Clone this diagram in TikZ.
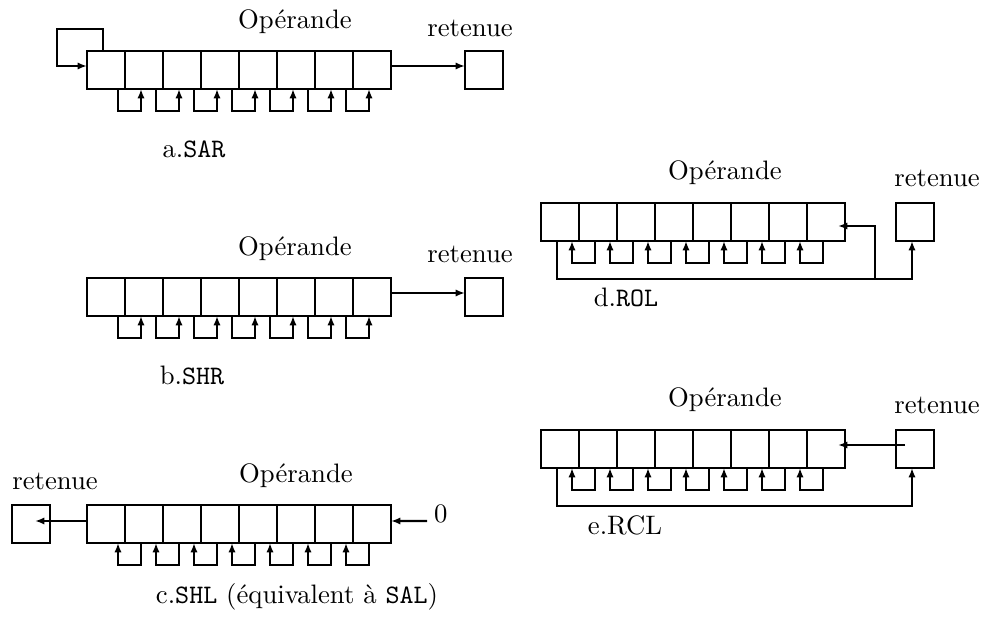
\documentclass[tikz,border=0pt]{standalone}
\usetikzlibrary{arrows.meta,calc}
\tikzset{
  cell/.style={draw, minimum width=14.23pt, minimum height=14.23pt, inner sep=0pt, outer sep=0pt},
  lbl/.style={inner sep=0pt, anchor=base},
  arr/.style={-{Latex[length=3.5pt,width=2.7pt]}},
}
\begin{document}
\begin{tikzpicture}[x=0.37459pt, y=-0.37459pt, line width=0.9pt]
\useasboundingbox (0,0) rectangle (984,619);

% ---------- a. SAR ----------
\foreach \i in {1,...,8} \node[cell] (a\i) at ({68+38*\i},70) {};
\node[cell] (ra) at (484,70) {};
\foreach \i in {1,...,7} {
  \pgfmathtruncatemacro\j{\i+1}
  \draw[arr] ($(a\i.south west)+(31,0)$) -- ++(0,22) -| ($(a\j.south west)+(16,0)$);
}
\draw[arr] ($(a1.north west)+(16,0)$) -- ++(0,-22) -- ++(-46,0) |- ($(a1.north west)+(0,15)$);
\draw[arr] ($(a8.north east)+(0,15)$) -- ($(ra.north west)+(0,15)$);
\node[lbl] (opa) at (295,29) {Opérande};
\node[lbl] (reta) at (470,37) {retenue};
\node[lbl] (capa) at (194,158) {a.\texttt{SAR}};

% ---------- b. SHR ----------
\foreach \i in {1,...,8} \node[cell] (b\i) at ({68+38*\i},297) {};
\node[cell] (rb) at (484,297) {};
\foreach \i in {1,...,7} {
  \pgfmathtruncatemacro\j{\i+1}
  \draw[arr] ($(b\i.south west)+(31,0)$) -- ++(0,22) -| ($(b\j.south west)+(16,0)$);
}
\draw[arr] ($(b8.north east)+(0,15)$) -- ($(rb.north west)+(0,15)$);
\node[lbl] (opb) at (295,256) {Opérande};
\node[lbl] (retb) at (470,263) {retenue};
\node[lbl] (capb) at (192,385) {b.\texttt{SHR}};

% ---------- c. SHL ----------
\foreach \i in {1,...,8} \node[cell] (c\i) at ({68+38*\i},524) {};
\node[cell] (rc) at (31,524) {};
\foreach \i in {1,...,7} {
  \pgfmathtruncatemacro\j{\i+1}
  \draw[arr] ($(c\j.south west)+(16,0)$) -- ++(0,22) -| ($(c\i.south west)+(31,0)$);
}
\draw[arr] ($(c1.north west)+(0,16)$) -- ($(rc.north west)+(23,16)$);
\node[lbl,anchor=base west] (zero) at (433,523) {0};
\coordinate (zin) at (427,521);
\draw[arr] (zin) -- ($(c8.north east)+(0,16)$);
\node[lbl] (opc) at (296,483) {Opérande};
\node[lbl] (retc) at (55,490) {retenue};
\node[lbl] (capc) at (297,604) {c.\texttt{SHL} (équivalent à \texttt{SAL})};

% ---------- d. ROL ----------
\foreach \i in {1,...,8} \node[cell] (d\i) at ({522+38*\i},222) {};
\node[cell] (rd) at (915,222) {};
\foreach \i in {1,...,7} {
  \pgfmathtruncatemacro\j{\i+1}
  \draw[arr] ($(d\j.south west)+(16,0)$) -- ++(0,22) -| ($(d\i.south west)+(31,0)$);
}
\draw[arr] ($(d1.south west)+(16,0)$) -- ++(0,38) -| ($(rd.south west)+(16,0)$);
\coordinate (dj) at ($(d8.south east)+(30,38)$);
\draw[arr] (dj) |- ($(d8.north west)+(31,23)$);
\node[lbl] (opd) at (725,180) {Opérande};
\node[lbl] (retd) at (937,187) {retenue};
\node[lbl] (capd) at (626,307) {d.\texttt{ROL}};

% ---------- e. RCL ----------
\foreach \i in {1,...,8} \node[cell] (e\i) at ({522+38*\i},449) {};
\node[cell] (re) at (915,449) {};
\foreach \i in {1,...,7} {
  \pgfmathtruncatemacro\j{\i+1}
  \draw[arr] ($(e\j.south west)+(16,0)$) -- ++(0,22) -| ($(e\i.south west)+(31,0)$);
}
\draw[arr] ($(e1.south west)+(16,0)$) -- ++(0,38) -| ($(re.south west)+(16,0)$);
\draw[arr] ($(re.north west)+(9,15)$) -- ($(e8.north west)+(31,15)$);
\node[lbl] (ope) at (725,407) {Opérande};
\node[lbl] (rete) at (937,414) {retenue};
\node[lbl] (cape) at (625,535) {e.RCL};
\end{tikzpicture}
\end{document}
